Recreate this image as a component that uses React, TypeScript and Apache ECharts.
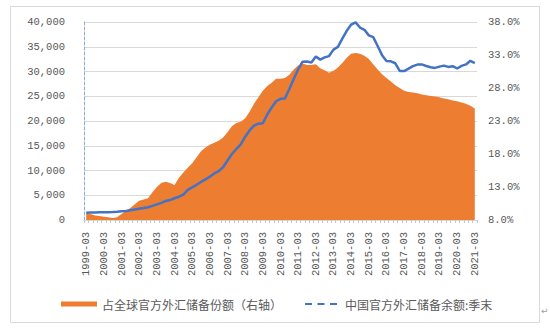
import React, { useEffect, useRef } from 'react';
import * as echarts from 'echarts';

const categories: string[] = [];
for (let y = 1999; y <= 2021; y++) {
  for (const m of ['03', '06', '09', '12']) {
    if (y === 2021 && m !== '03') break;
    categories.push(`${y}-${m}`);
  }
}

const shareName = '占全球官方外汇储备份额（右轴）';
const reserveName = '中国官方外汇储备余额:季末';

// China official FX reserves, 100 million USD (left axis)
const reserves = [
  1468, 1506, 1519, 1547, 1568, 1585, 1601, 1656, 1759, 1806, 1956, 2122,
  2274, 2427, 2585, 2864, 3160, 3465, 3840, 4033, 4396, 4706, 5145, 6099,
  6591, 7110, 7690, 8189, 8751, 9411, 9879, 10663, 12020, 13326, 14336, 15282,
  16822, 18088, 19056, 19460, 19537, 21316, 22726, 23992, 24471, 24543, 26483, 28473,
  30447, 31975, 32017, 31811, 33050, 32400, 32851, 33116, 34426, 34967, 36627, 38213,
  39481, 39932, 38877, 38430, 37300, 36938, 35141, 33304, 32126, 32052, 31664, 30105,
  30091, 30568, 31085, 31399, 31428, 31121, 30870, 30727, 30988, 31192, 30924, 31079,
  30606, 31123, 31426, 32165, 31700,
];

// Share of global official FX reserves, % (right axis)
const share = [
  9.0, 8.9, 8.7, 8.6, 8.5, 8.4, 8.3, 8.4, 8.9, 9.4, 9.8, 10.4,
  10.9, 11.1, 11.3, 12.2, 13.0, 13.6, 13.8, 13.6, 13.3, 14.4, 15.2, 15.9,
  16.6, 17.5, 18.4, 19.0, 19.4, 19.7, 20.0, 20.5, 21.3, 22.2, 22.7, 22.9,
  23.4, 24.4, 25.6, 26.6, 27.6, 28.3, 28.8, 29.4, 29.4, 29.5, 30.0, 30.8,
  31.4, 31.7, 31.5, 31.5, 31.6, 31.0, 30.7, 30.3, 30.6, 31.1, 31.8, 32.6,
  33.2, 33.3, 33.2, 32.9, 32.4, 31.6, 30.8, 30.1, 29.5, 29.0, 28.4, 28.0,
  27.6, 27.4, 27.3, 27.2, 27.0, 26.9, 26.8, 26.7, 26.6, 26.4, 26.3, 26.1,
  26.0, 25.8, 25.6, 25.3, 24.9,
];

const leftMin = 0;
const leftMax = 40000;
const leftStep = 5000;
const rightMin = 8;
const rightMax = 38;
const rightStep = 5;

const axisFont = 'Liberation Mono';
const cjkFont = 'Noto Sans CJK SC';
const textColor = '#595959';

export default function App() {
  const ref = useRef<HTMLDivElement>(null);

  useEffect(() => {
    if (!ref.current) return;
    const chart = echarts.init(ref.current, undefined, { renderer: 'svg' });
    chart.setOption({
      animation: false,
      backgroundColor: '#ffffff',
      grid: { left: 84, right: 73, top: 22, bottom: 110, containLabel: false },
      xAxis: {
        type: 'category',
        data: categories,
        boundaryGap: true,
        axisLine: { show: true, lineStyle: { color: '#D9D9D9', width: 1 } },
        axisTick: { show: true, interval: 0, length: 3, lineStyle: { color: '#C8C8C8' } },
        axisLabel: {
          interval: 3,
          rotate: 90,
          margin: 12,
          fontSize: 10.5,
          color: textColor,
          fontFamily: axisFont,
          padding: [6, 0, 0, 0],
        },
      },
      yAxis: [
        {
          type: 'value',
          position: 'left',
          min: leftMin,
          max: leftMax,
          interval: leftStep,
          axisLine: { show: true, lineStyle: { color: '#8EA9DB', type: [3, 2], width: 1 } },
          axisTick: { show: false },
          splitLine: { show: true, lineStyle: { color: '#D9D9D9', width: 1 } },
          axisLabel: {
            margin: 19,
            fontSize: 10.5,
            color: textColor,
            fontFamily: axisFont,
            formatter: (v: number) => v.toLocaleString('en-US'),
          },
        },
        {
          type: 'value',
          position: 'right',
          min: rightMin,
          max: rightMax,
          interval: rightStep,
          axisLine: { show: false },
          axisTick: { show: false },
          splitLine: { show: false },
          axisLabel: {
            margin: 11,
            fontSize: 10.5,
            color: textColor,
            fontFamily: axisFont,
            formatter: (v: number) => v.toFixed(1) + '%',
          },
        },
      ],
      legend: [
        {
          data: [{ name: shareName, icon: 'rect', itemStyle: { color: '#ED7D31', borderWidth: 0 } }],
          left: 61,
          top: 298,
          padding: 0,
          itemWidth: 36,
          itemHeight: 5,
          selectedMode: false,
          textStyle: { fontSize: 12, color: textColor, fontFamily: cjkFont },
        },
        {
          data: [
            {
              name: reserveName,
              icon: 'path://M0,0h7v2h-7z M12.5,0h7v2h-7z M25,0h7v2h-7z',
              itemStyle: { color: '#4472C4', borderWidth: 0 },
            },
          ],
          left: 305,
          top: 298,
          padding: 0,
          itemWidth: 32,
          itemHeight: 2,
          selectedMode: false,
          textStyle: { fontSize: 12, color: textColor, fontFamily: cjkFont, padding: [0, 0, 0, 3] },
        },
      ],
      series: [
        {
          name: shareName,
          type: 'line',
          yAxisIndex: 1,
          data: share,
          symbol: 'none',
          showSymbol: false,
          itemStyle: { color: '#ED7D31' },
          lineStyle: { width: 0, color: '#ED7D31' },
          areaStyle: { color: '#ED7D31', opacity: 1 },
          z: 1,
        },
        {
          name: reserveName,
          type: 'line',
          yAxisIndex: 0,
          data: reserves,
          symbol: 'none',
          showSymbol: false,
          itemStyle: { color: '#4472C4' },
          lineStyle: { width: 2.5, color: '#4472C4' },
          z: 3,
        },
      ],
      graphic: [
        {
          type: 'rect',
          shape: { x: 10.5, y: 6.5, width: 529, height: 316 },
          style: { fill: 'none', stroke: '#D9D9D9', lineWidth: 1 },
          silent: true,
        },
        {
          type: 'text',
          x: 541,
          y: 306,
          style: { text: '↵', fontSize: 9, fill: '#A0A0A0', fontFamily: 'DejaVu Sans' },
          silent: true,
        },
      ],
    });
    return () => chart.dispose();
  }, []);

  return (
    <div
      ref={ref}
      style={{ position: 'fixed', left: 0, top: 0, width: 550, height: 330, background: '#fff' }}
    />
  );
}
